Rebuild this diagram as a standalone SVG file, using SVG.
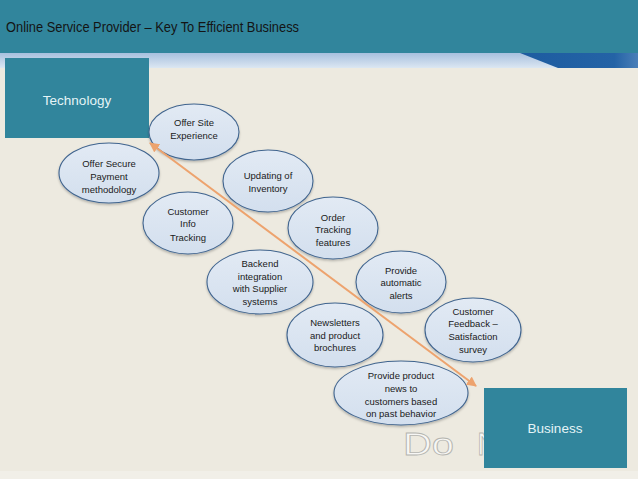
<svg xmlns="http://www.w3.org/2000/svg" width="638" height="479" viewBox="0 0 638 479">
<defs>
<style>
.n ellipse{fill:url(#eg);stroke:#41658F;stroke-width:1.1;filter:url(#sh)}
.n text{font-family:"Liberation Sans",Arial,sans-serif;font-size:9.5px;fill:#1a1a1a;text-anchor:middle}
.box{fill:#31859C}
.bt{font-family:"Liberation Sans",Arial,sans-serif;font-size:13.5px;fill:#E4F4F7;text-anchor:middle}
.wm{font-family:"Liberation Sans",Arial,sans-serif;font-size:31px;fill:#F7F7F5;stroke:#B5B5B0;stroke-width:0.8}
</style>
<linearGradient id="eg" x1="0" y1="0" x2="0" y2="1">
<stop offset="0" stop-color="#E2EAF4"/><stop offset="1" stop-color="#D3DFEE"/>
</linearGradient>
<linearGradient id="strip" x1="0" y1="0" x2="0" y2="1">
<stop offset="0" stop-color="#A7C0DE"/><stop offset="1" stop-color="#DCE7F2"/>
</linearGradient>
<linearGradient id="wedge" x1="0" y1="0" x2="1" y2="0">
<stop offset="0" stop-color="#1D5CA0"/><stop offset="0.8" stop-color="#2463A6"/><stop offset="1" stop-color="#4A7FB8"/>
</linearGradient>
<filter id="sh" x="-20%" y="-20%" width="140%" height="150%">
<feDropShadow dx="0" dy="1.5" stdDeviation="1.2" flood-color="#000" flood-opacity="0.25"/>
</filter>
<marker id="ah" viewBox="0 0 10 10" refX="9" refY="5" markerWidth="5" markerHeight="5" orient="auto-start-reverse" markerUnits="strokeWidth">
<path d="M0,0 L10,5 L0,10 z" fill="#EDA36E"/>
</marker>
</defs>
<rect x="0" y="0" width="638" height="479" fill="#EDEAE0"/>
<rect x="0" y="471" width="638" height="8" fill="#F1EFE8"/>
<rect x="0" y="53" width="638" height="15" fill="url(#strip)"/>
<polygon points="520,53 638,53 638,68 558,68" fill="url(#wedge)"/>
<rect x="0" y="0" width="638" height="53" fill="#31859C"/>
<text x="6" y="32" font-family="'Liberation Sans',Arial,sans-serif" font-size="14" fill="#141414" textLength="293" lengthAdjust="spacingAndGlyphs">Online Service Provider – Key To Efficient Business</text>

<text class="wm" x="403" y="455"><tspan textLength="51" lengthAdjust="spacingAndGlyphs">Do</tspan><tspan x="477">N</tspan></text>

<g id="technology">
<rect class="box" x="5" y="58" width="144" height="80"/>
<text class="bt" x="77" y="105">Technology</text>
</g>
<g id="business">
<rect class="box" x="484" y="388" width="143" height="80"/>
<text class="bt" x="555" y="433">Business</text>
</g>

<g id="n1" class="n"><ellipse cx="194" cy="132" rx="45" ry="28"/>
<text x="194" y="125.5">Offer Site</text><text x="194" y="138.5">Experience</text></g>
<g id="n2" class="n"><ellipse cx="109" cy="173" rx="50" ry="30"/>
<text x="109" y="166.5">Offer Secure</text><text x="109" y="179.5">Payment</text><text x="109" y="192.5">methodology</text></g>
<g id="n3" class="n"><ellipse cx="268" cy="181" rx="45" ry="31"/>
<text x="268" y="178.5">Updating of</text><text x="268" y="191.5">Inventory</text></g>
<g id="n4" class="n"><ellipse cx="188" cy="223" rx="45" ry="31"/>
<text x="188" y="214.5">Customer</text><text x="188" y="226.5">Info</text><text x="188" y="240.5">Tracking</text></g>
<g id="n5" class="n"><ellipse cx="333" cy="228" rx="45" ry="31"/>
<text x="333" y="220.5">Order</text><text x="333" y="232.5">Tracking</text><text x="333" y="245.5">features</text></g>
<g id="n6" class="n"><ellipse cx="260" cy="282" rx="53" ry="32"/>
<text x="260" y="266.5">Backend</text><text x="260" y="279.5">integration</text><text x="260" y="291.5">with Supplier</text><text x="260" y="305">systems</text></g>
<g id="n7" class="n"><ellipse cx="401" cy="282" rx="45" ry="31"/>
<text x="401" y="273.5">Provide</text><text x="401" y="285.5">automatic</text><text x="401" y="298.5">alerts</text></g>
<g id="n8" class="n"><ellipse cx="335" cy="335" rx="48" ry="32"/>
<text x="335" y="325.5">Newsletters</text><text x="335" y="338.5">and product</text><text x="335" y="350.5">brochures</text></g>
<g id="n9" class="n"><ellipse cx="473" cy="330" rx="48" ry="32"/>
<text x="473" y="314.5">Customer</text><text x="473" y="326.5">Feedback –</text><text x="473" y="339.5">Satisfaction</text><text x="473" y="352.5">survey</text></g>
<g id="n10" class="n"><ellipse cx="401" cy="393" rx="67" ry="32"/>
<text x="401" y="378.5">Provide product</text><text x="401" y="391.5">news to</text><text x="401" y="404.5">customers based</text><text x="401" y="416.5">on past behavior</text></g>

<g id="connectors">
<line x1="150" y1="143" x2="476" y2="386" stroke="#EDA36E" stroke-width="2" marker-start="url(#ah)" marker-end="url(#ah)"/>
</g>
</svg>
